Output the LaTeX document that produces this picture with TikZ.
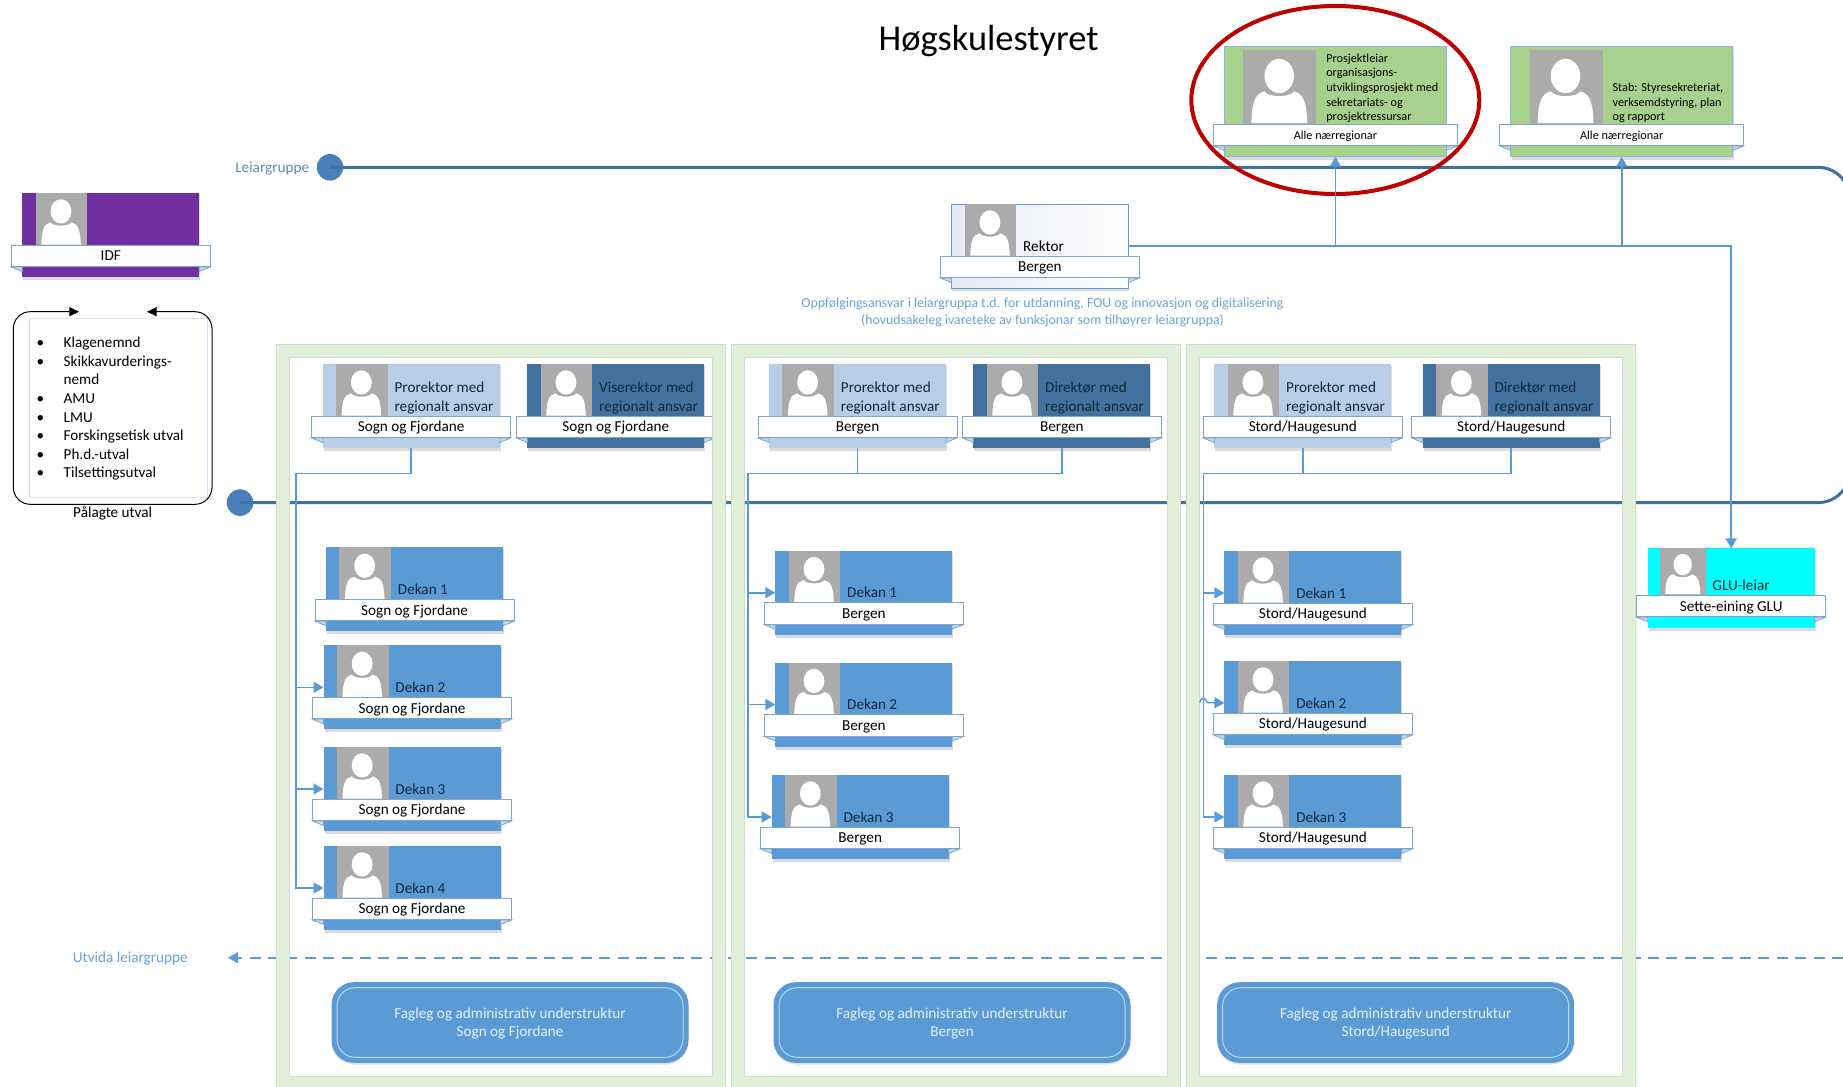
\documentclass[tikz,border=0pt]{standalone}
\usepackage{fontspec}
\setmainfont{Carlito}
\usetikzlibrary{arrows.meta,shapes.geometric}
\definecolor{cgreen}{HTML}{A9D18E}
\definecolor{clight}{HTML}{B8CDE6}
\definecolor{cdark}{HTML}{41719C}
\definecolor{cblue}{HTML}{5B9BD5}
\definecolor{ccyan}{HTML}{00FFFF}
\definecolor{cpurple}{HTML}{7030A0}
\definecolor{cphoto}{HTML}{ABABAB}
\definecolor{cline}{HTML}{41719C}
\definecolor{cdot}{HTML}{4A80B8}
\definecolor{cframe}{HTML}{E2EFD9}
\definecolor{cframeb}{HTML}{D0DECB}
\definecolor{cnote}{HTML}{6CA3D6}
\definecolor{cribbon}{HTML}{7FA6CF}
\definecolor{cfold}{HTML}{C9D6E6}
\definecolor{cink}{HTML}{14283C}
\definecolor{crektor}{HTML}{E6EBF3}
\definecolor{cleiar}{HTML}{5C8BB8}
\newcommand\stdfont{\fontsize{7.6}{9.3}\selectfont}
\newcommand\smallcardfont{\fontsize{6.1}{7.35}\selectfont}
\newcommand\setgeom[7]{\def\cw{#1}\def\ch{#2}\def\phx{#3}\def\phy{#4}\def\phw{#5}\def\ry{#6}\def\tx{#7}}
\tikzset{
  cardbox/.style={rectangle,anchor=north west,inner sep=0pt,outer sep=0pt},
  photobox/.style={rectangle,anchor=north west,inner sep=0pt,outer sep=0pt,fill=cphoto},
  ribbonbox/.style={rectangle,anchor=north,inner sep=0pt,outer sep=0pt,fill=white,draw=cribbon,line width=0.5pt,text height=6.1pt,text depth=1pt},
  titletext/.style={anchor=south west,inner sep=0pt,align=left},
  conn/.style={draw=cblue,line width=0.8pt},
  connarrow/.style={conn,-{Triangle[length=5pt,width=5.5pt]}},
  mainline/.style={draw=cline,line width=1.5pt},
  blobdot/.style={circle,fill=cdot,inner sep=0pt,minimum size=13.3pt},
  panelband/.style={fill=cframe,draw=cframeb,line width=0.4pt,even odd rule},
  notetext/.style={text=cnote,inner sep=0pt,align=center},
  subbox/.style={rectangle,rounded corners=11pt,fill=cblue,draw=cblue,line width=0.5pt,minimum width=178pt,minimum height=39.8pt,anchor=north west,inner sep=0pt,outer sep=0pt},
  subtext/.style={text=white!85!cblue,inner sep=0pt,align=center,font=\stdfont},
}
\newcommand\personcard[7]{%
  \fill[black,opacity=.14] ({#2+1},{#3+2}) rectangle ({#2+\cw+1},{#3+\ch+3});
  \node[cardbox,#4,minimum width={\cw*0.5pt},minimum height={\ch*0.5pt}] (#1) at ({#2},{#3}) {};
  \node[photobox,minimum width={\phw*0.5pt},minimum height={(\ry-\phy)*0.5pt}] (#1-ph) at ({#2+\phx},{#3+\phy}) {};
  \begin{scope}[shift={({#2+\phx},{#3+\phy})},scale={\phw/52}]
    \fill[white] (25.5,18.5) ellipse [x radius=10.5,y radius=12.2];
    \fill[white] (5.7,52) .. controls (6,38) and (8,31) .. (15,29.5) .. controls (18,34) and (33,34) .. (36,29.5) .. controls (43,31) and (45,38) .. (45.5,52) -- cycle;
  \end{scope}
  \filldraw[fill=cfold,draw=cribbon,line width=0.4pt] ({#2-11},{#3+\ry+22}) -- ({#2},{#3+\ry+26.5}) -- ({#2},{#3+\ry+22}) -- cycle;
  \filldraw[fill=cfold,draw=cribbon,line width=0.4pt] ({#2+\cw+11},{#3+\ry+22}) -- ({#2+\cw},{#3+\ry+26.5}) -- ({#2+\cw},{#3+\ry+22}) -- cycle;
  \node[ribbonbox,font=\labfont,minimum width={(\cw+22)*0.5pt},minimum height={21.6*0.5pt}] (#1-lab) at ({#2+\cw/2},{#3+\ry}) {#7};
  \node[titletext,font=\labtitle,text=#5] (#1-t) at ({#2+\tx},{#3+\ry+\tdrop}) {#6\strut};
}
\begin{document}
\begin{tikzpicture}[x=0.5pt,y=-0.5pt]
\useasboundingbox (0,0) rectangle (1843,1087);
\clip (0,0) rectangle (1843,1087);
\fill[white] (0,0) rectangle (1843,1087);

% main lines
\node[blobdot] (topdot) at (330,167.3) {};
\node[blobdot] (botdot) at (240,502.6) {};
\coordinate (railR1) at (1850,167.3);
\coordinate (railR2) at (1850,502.6);
\draw[mainline,rounded corners=16pt] (topdot.center) -- (railR1) -- (railR2) -- (botdot.center);
\node[notetext,text=cleiar,font=\fontsize{7.6}{9.3}\selectfont,anchor=east] (leiar) at (309.5,168.7) {Leiargruppe};

% dashed level line
\coordinate (dashR) at (1843,957.7);
\coordinate (dashL) at (228,957.7);
\draw[conn,dash pattern=on 5.5pt off 3.7pt,-{Triangle[length=5pt,width=5.5pt]}] (dashR) -- (dashL);
\node[notetext,font=\stdfont,anchor=west] (utvida) at (72.5,958.7) {Utvida leiargruppe};

% title
\node[inner sep=0pt,font=\fontsize{18.2}{22}\selectfont] (title) at (988.5,41) {Høgskulestyret};

% top staff cards
\let\labfont\smallcardfont \let\labtitle\smallcardfont \def\tdrop{1.8}
\setgeom{222}{110}{19}{3.3}{73}{77.3}{101.5}
\personcard{prosj}{1224.4}{46.7}{fill=cgreen,draw=cblue!70!white,line width=0.4pt}{black}{Prosjektleiar\\organisasjons-\\utviklingsprosjekt med\\sekretariats- og\\prosjektressursar}{Alle nærregionar}
\personcard{stab}{1510.7}{46.7}{fill=cgreen,draw=cblue!70!white,line width=0.4pt}{black}{Stab: Styresekreteriat,\\verksemdstyring, plan\\og rapport}{Alle nærregionar}

% standard cards
\let\labfont\stdfont \let\labtitle\stdfont \def\tdrop{1}
\setgeom{177}{84}{13.3}{0}{51.7}{52}{71.5}
\personcard{idf}{22.3}{193}{fill=cpurple}{black}{}{IDF}
\personcard{rektor}{951.3}{204}{left color=crektor,right color=white,draw=cblue,line width=0.5pt}{black}{Rektor}{Bergen}

\personcard{proA}{322.7}{364}{fill=clight}{cink}{Prorektor med\\regionalt ansvar}{Sogn og Fjordane}
\personcard{visA}{527.3}{364}{fill=cdark}{cink}{Viserektor med\\regionalt ansvar}{Sogn og Fjordane}
\personcard{proB}{769}{364}{fill=clight}{cink}{Prorektor med\\regionalt ansvar}{Bergen}
\personcard{dirB}{973.3}{364}{fill=cdark}{cink}{Direktør med\\regionalt ansvar}{Bergen}
\personcard{proC}{1214.3}{364}{fill=clight}{cink}{Prorektor med\\regionalt ansvar}{Stord/Haugesund}
\personcard{dirC}{1422.7}{364}{fill=cdark}{cink}{Direktør med\\regionalt ansvar}{Stord/Haugesund}

\personcard{dekA1}{326}{547.3}{fill=cblue}{cink}{Dekan 1}{Sogn og Fjordane}
\personcard{dekA2}{323.5}{645.3}{fill=cblue}{cink}{Dekan 2}{Sogn og Fjordane}
\personcard{dekA3}{323.5}{747}{fill=cblue}{cink}{Dekan 3}{Sogn og Fjordane}
\personcard{dekA4}{323.5}{846}{fill=cblue}{cink}{Dekan 4}{Sogn og Fjordane}
\personcard{dekB1}{775.3}{550.7}{fill=cblue}{cink}{Dekan 1}{Bergen}
\personcard{dekB2}{775.3}{662.5}{fill=cblue}{cink}{Dekan 2}{Bergen}
\personcard{dekB3}{771.7}{775}{fill=cblue}{cink}{Dekan 3}{Bergen}
\personcard{dekC1}{1224.4}{551}{fill=cblue}{cink}{Dekan 1}{Stord/Haugesund}
\personcard{dekC2}{1224.4}{661}{fill=cblue}{cink}{Dekan 2}{Stord/Haugesund}
\personcard{dekC3}{1224.4}{775}{fill=cblue}{cink}{Dekan 3}{Stord/Haugesund}

\setgeom{167}{79.4}{12.6}{0}{45.7}{47}{64.3}
\personcard{glu}{1647.7}{548.3}{fill=ccyan}{black!70!teal}{GLU-leiar}{Sette-eining GLU}

% panels
\path[panelband] (276,344) rectangle (725.7,1095) (289,357) rectangle (712,1076.7);
\path[panelband] (731.7,344) rectangle (1180.7,1095) (744.7,357) rectangle (1167.3,1076.7);
\path[panelband] (1186.5,344) rectangle (1635.7,1095) (1199.5,357) rectangle (1622.7,1076.7);

% substructure boxes
\foreach \nm/\bx/\capt in {subA/332/{Sogn og Fjordane},subB/774/{Bergen},subC/1217.7/{Stord/Haugesund}}{
  \fill[black,opacity=.12,rounded corners=11pt] (\bx,985) rectangle (\bx+356,1064.5);
  \node[subbox] (\nm) at (\bx,982.7) {};
  \draw[white!60!cblue,line width=0.5pt,rounded corners=9pt] (\bx+5,987.7) rectangle (\bx+351,1057.3);
  \node[subtext] (\nm-t) at (\bx+178,1023.5) {Fagleg og administrativ understruktur\\\capt};
}

% red ring
\node[ellipse,draw=red!75!black,line width=2pt,minimum width=144pt,minimum height=94pt,inner sep=0pt] (ring) at (1335.3,100) {};

% Pålagte utval
\node[rectangle,draw=black!12!blue!12!white,line width=0.4pt,minimum width=88.7pt,minimum height=89.8pt,anchor=north west,inner sep=0pt] (listbox) at (29.3,317.7) {};
\coordinate (loopA) at (79,311.7);
\coordinate (loopB) at (147,311.7);
\draw[black,line width=0.5pt,rounded corners=8.5pt,{Triangle[length=4.8pt,width=4.5pt]}-{Triangle[length=4.8pt,width=4.5pt]}] (loopA) -- (13.3,311.7) -- (13.3,504.3) -- (212,504.3) -- (212,311.7) -- (loopB);
\newcommand\bul{\llap{\textbullet\hspace{9.8pt}}}
\node[anchor=north west,inner sep=0pt,align=left,font=\stdfont] (listtext) at (63.3,336.8) {\bul Klagenemnd\\\bul Skikkavurderings-\\nemd\\\bul AMU\\\bul LMU\\\bul Forskingsetisk utval\\\bul Ph.d.-utval\\\bul Tilsettingsutval};
\node[inner sep=0pt,font=\stdfont] (palagt) at (112.7,513.5) {Pålagte utval};

% note
\node[notetext,font=\fontsize{6.9}{8.5}\selectfont] (note) at (1042.5,312) {Oppfølgingsansvar i leiargruppa t.d. for utdanning, FOU og innovasjon og digitalisering\\(hovudsakeleg ivareteke av funksjonar som tilhøyrer leiargruppa)};

% connectors from Rektor
\draw[connarrow] (rektor.east) -| (glu.north);
\draw[connarrow] (prosj.south |- rektor.east) -- (prosj.south);
\draw[connarrow] (stab.south |- rektor.east) -- (stab.south);

% connectors Sogn og Fjordane
\coordinate (busA) at (296,473.3);
\draw[conn] (proA.south) |- (busA);
\draw[connarrow] (busA) |- (dekA2.west);
\draw[connarrow] (busA) |- (dekA3.west);
\draw[connarrow] (busA) |- (dekA4.west);

% connectors Bergen
\coordinate (busB) at (747.7,473.3);
\draw[conn] (dirB.south) |- (busB);
\draw[conn] (proB.south) |- (busB);
\draw[connarrow] (busB) |- (dekB1.west);
\draw[connarrow] (busB) |- (dekB2.west);
\draw[connarrow] (busB) |- (dekB3.west);

% connectors Stord/Haugesund
\coordinate (busC) at (1203.3,473.3);
\coordinate (hopA) at (1199.8,702.5);
\coordinate (hopB) at (1207,702.5);
\draw[conn] (dirC.south) |- (busC);
\draw[conn] (proC.south) |- (busC);
\draw[connarrow] (busC) |- (dekC1.west);
\draw[connarrow] (busC) |- (dekC3.west);
\draw[conn] (hopA) .. controls (1200.5,697) and (1206,697) .. (hopB);
\draw[connarrow] (hopB) -- (dekC2.west);
\end{tikzpicture}
\end{document}
